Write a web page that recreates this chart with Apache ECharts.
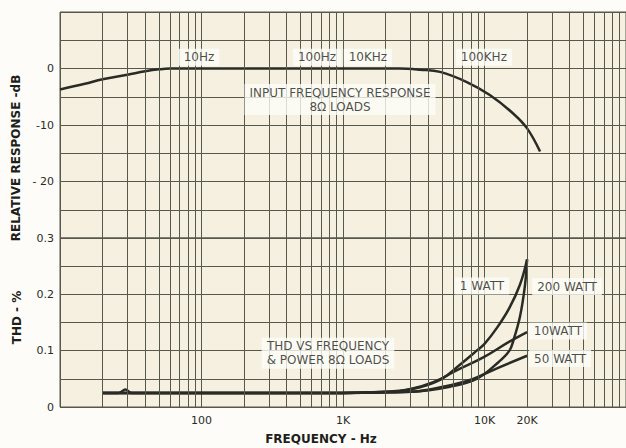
<!DOCTYPE html>
<html>
<head>
<meta charset="utf-8">
<script src="https://cdn.jsdelivr.net/npm/echarts/dist/echarts.min.js"></script>
<style>
html,body{margin:0;padding:0;background:#fdfcf9;}
#c{width:626px;height:448px;}
</style>
</head>
<body>
<div id="c"></div>
<script>
// ---- data ----
// Frequency response (Hz, dB)
var frFreq = [10, 15, 20, 30, 40, 50, 60, 100, 1000, 2500, 3500, 4850, 7500, 10900, 16000, 20000, 24700];
var frDb   = [-3.7, -2.7, -1.9, -1.1, -0.5, -0.15, 0, 0, 0, 0, -0.2, -0.6, -2.4, -4.7, -8.0, -10.6, -14.7];

// THD vs frequency (Hz, %)
var thd1wFreq   = [20, 26, 29, 32, 100, 1000, 2000, 2500, 3500, 5000, 6700, 8800, 10000, 12200, 15000, 17800, 20000];
var thd1wVal    = [0.025, 0.025, 0.031, 0.025, 0.025, 0.025, 0.027, 0.028, 0.035, 0.05, 0.075, 0.1, 0.112, 0.14, 0.176, 0.217, 0.262];
var thd200wFreq = [20, 100, 1000, 3000, 5700, 8800, 12600, 15000, 16000, 17800, 19300, 20000];
var thd200wVal  = [0.025, 0.025, 0.025, 0.027, 0.036, 0.05, 0.08, 0.1, 0.118, 0.16, 0.215, 0.262];
var thd10wFreq  = [20, 100, 1000, 2000, 3000, 4350, 6350, 9800, 15000, 20000];
var thd10wVal   = [0.025, 0.025, 0.025, 0.027, 0.032, 0.044, 0.065, 0.088, 0.116, 0.133];
var thd50wFreq  = [20, 100, 1000, 3000, 5100, 8300, 12600, 20000];
var thd50wVal   = [0.025, 0.025, 0.025, 0.027, 0.036, 0.05, 0.07, 0.091];

// axis ticks / labels
var xTickValues = [100, 1000, 10000, 20000];
var xTickLabels = ['100', '1K', '10K', '20K'];
var xMinorLines = [20,30,40,50,60,70,80,90,200,300,400,500,600,700,800,900,
                   2000,3000,4000,5000,6000,7000,8000,9000,20000,30000,40000,50000,60000,70000,80000,90000];
var dbLabelValues  = [0, -10, -20];
var dbLabelTexts   = ['0', '-10', '- 20'];
var thdLabelValues = [0, 0.1, 0.2, 0.3];
var thdLabelTexts  = ['0', '0.1', '0.2', '0.3'];

// annotation texts
var frNotes  = ['10Hz', '100Hz', '10KHz', '100KHz', 'INPUT FREQUENCY RESPONSE\n8\u03A9 LOADS'];
var thdNotes = ['THD VS FREQUENCY\n& POWER 8\u03A9 LOADS', '1 WATT', '200 WATT', '10WATT', '50 WATT'];
// annotation anchor positions (data space)
var frNotePos  = [[96, 2.0], [655, 2.0], [1500, 2.0], [9900, 2.0], [953, -5.5]];
var thdNotePos = [[783, 0.0955], [9600, 0.2146], [38300, 0.2138], [33000, 0.135], [34200, 0.086]];

// ---- build ----
function pairs(xs, ys) { return xs.map(function (x, i) { return [x, ys[i]]; }); }
function near(v, list) {
  for (var i = 0; i < list.length; i++) if (Math.abs(v - list[i]) < 1e-6) return i;
  return -1;
}
var gridCol = '#56584c';
var inkCol = '#2a2b25';
var fontFam = '"DejaVu Sans", "Liberation Sans", sans-serif';

var minorLine = {
  silent: true, symbol: ['none', 'none'], animation: false,
  label: { show: false },
  lineStyle: { color: gridCol, width: 1, type: 'solid', opacity: 1 },
  emphasis: { disabled: true },
  data: xMinorLines.map(function (v) { return { xAxis: v }; })
};

function curve(name, xi, yi, data) {
  return {
    name: name, type: 'line', xAxisIndex: xi, yAxisIndex: yi,
    data: data, showSymbol: false, symbol: 'none',
    smooth: 0.4, z: 4,
    lineStyle: { color: inkCol, width: 2.5 },
    animation: false
  };
}

function notes(xi, yi, texts, pos) {
  return {
    type: 'scatter', xAxisIndex: xi, yAxisIndex: yi, symbolSize: 0, z: 6, silent: true,
    animation: false,
    data: texts.map(function (t, i) { return { name: t, value: pos[i] }; }),
    label: {
      show: true, position: 'inside', formatter: '{b}',
      color: '#1e1f1a', fontFamily: fontFam, fontSize: 12, lineHeight: 14,
      backgroundColor: '#fdfcf8', padding: [2, 5, 1, 5], align: 'center'
    }
  };
}

var frSeries = curve('INPUT FREQUENCY RESPONSE', 0, 0, pairs(frFreq, frDb));
frSeries.markLine = minorLine;
var s1 = curve('1 WATT', 1, 1, pairs(thd1wFreq, thd1wVal));
s1.markLine = JSON.parse(JSON.stringify(minorLine));

var chart = echarts.init(document.getElementById('c'), null, { renderer: 'svg' });
chart.setOption({
  animation: false,
  backgroundColor: '#fdfcf9',
  textStyle: { fontFamily: fontFam },
  grid: [
    { left: 60, right: 0, top: 12, height: 226, show: true, backgroundColor: '#f6f0e0', borderColor: gridCol, borderWidth: 1 },
    { left: 60, right: 0, top: 238, height: 169, show: true, backgroundColor: '#f6f0e0', borderColor: gridCol, borderWidth: 1 }
  ],
  xAxis: [
    {
      type: 'log', logBase: 10, min: 10, max: 100000, gridIndex: 0,
      axisLine: { show: false }, axisTick: { show: false }, axisLabel: { show: false },
      splitLine: { show: true, lineStyle: { color: gridCol, width: 1 } }
    },
    {
      type: 'log', logBase: 10, min: 10, max: 100000, gridIndex: 1,
      name: 'FREQUENCY - Hz', nameLocation: 'middle', nameGap: 26,
      nameTextStyle: { color: '#1e1f1a', fontWeight: 'bold', fontSize: 12, fontFamily: fontFam, padding: [0, 44, 0, 0] },
      axisLine: { show: false }, axisTick: { show: false },
      axisLabel: {
        show: true, customValues: xTickValues, margin: 8, color: '#2a2b25', fontSize: 11, fontFamily: fontFam,
        formatter: function (v) { var i = near(v, xTickValues); return i >= 0 ? xTickLabels[i] : ''; }
      },
      splitLine: { show: true, lineStyle: { color: gridCol, width: 1 } }
    }
  ],
  yAxis: [
    {
      type: 'value', min: -30, max: 10, interval: 5, gridIndex: 0,
      name: 'RELATIVE RESPONSE -dB', nameLocation: 'middle', nameGap: 37, nameRotate: 90,
      nameTextStyle: { color: '#1e1f1a', fontWeight: 'bold', fontSize: 12, fontFamily: fontFam, padding: [0, 66, 0, 0] },
      axisLine: { show: false }, axisTick: { show: false },
      axisLabel: {
        margin: 6, color: '#2a2b25', fontSize: 11, fontFamily: fontFam,
        formatter: function (v) { var i = near(v, dbLabelValues); return i >= 0 ? dbLabelTexts[i] : ''; }
      },
      splitLine: { show: true, lineStyle: { color: gridCol, width: 1 } }
    },
    {
      type: 'value', min: 0, max: 0.3, interval: 0.05, gridIndex: 1,
      name: 'THD - %', nameLocation: 'middle', nameGap: 37, nameRotate: 90,
      nameTextStyle: { color: '#1e1f1a', fontWeight: 'bold', fontSize: 12, fontFamily: fontFam, padding: [0, 0, 0, 10] },
      axisLine: { show: false }, axisTick: { show: false },
      axisLabel: {
        margin: 6, color: '#2a2b25', fontSize: 11, fontFamily: fontFam,
        formatter: function (v) { var i = near(v, thdLabelValues); return i >= 0 ? thdLabelTexts[i] : ''; }
      },
      splitLine: { show: true, lineStyle: { color: gridCol, width: 1 } }
    }
  ],
  series: [
    frSeries,
    s1,
    curve('200 WATT', 1, 1, pairs(thd200wFreq, thd200wVal)),
    curve('10WATT', 1, 1, pairs(thd10wFreq, thd10wVal)),
    curve('50 WATT', 1, 1, pairs(thd50wFreq, thd50wVal)),
    notes(0, 0, frNotes, frNotePos),
    notes(1, 1, thdNotes, thdNotePos)
  ]
});
</script>
</body>
</html>
